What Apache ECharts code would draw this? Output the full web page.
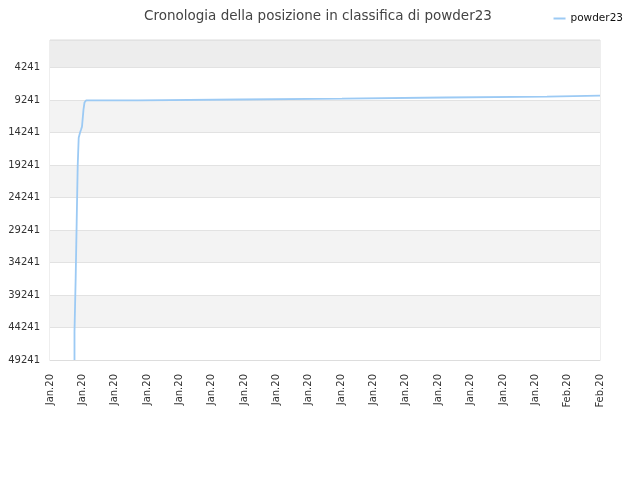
<!DOCTYPE html>
<html>
<head>
<meta charset="utf-8">
<script src="https://cdn.jsdelivr.net/npm/echarts@6/dist/echarts.min.js"></script>
<style>
html,body{margin:0;padding:0;background:#fff;}
#container{width:640px;height:480px;}
</style>
</head>
<body>
<div id="container"></div>
<script>
// x axis labels, one per unit step
var xLabels = ['Jan.20','Jan.20','Jan.20','Jan.20','Jan.20','Jan.20','Jan.20','Jan.20','Jan.20',
	'Jan.20','Jan.20','Jan.20','Jan.20','Jan.20','Jan.20','Jan.20','Feb.20','Feb.20'];
var yTicks = [4241, 9241, 14241, 19241, 24241, 29241, 34241, 39241, 44241, 49241];
var rankTop = 1;
// position on x axis (label units) and rank
var posX = [0.757, 0.757, 0.794, 0.825, 0.856, 0.887, 0.927, 0.958, 0.989, 1.035, 1.066, 1.113,
	2.711, 5.873, 9.025, 12.209, 15.362, 17.0];
var rank = [49241, 44900, 36560, 27930, 19450, 15030, 14260, 13800, 13330, 10710, 9630, 9300,
	9160, 9010, 8850, 8700, 8550, 8550];

var chart = echarts.init(document.getElementById('container'));
// rank holds until the next reading, then jumps
var points = [];
for (var i = 0; i < posX.length; i++) {
	if (i > 0) points.push([posX[i], rank[i - 1]]);
	points.push([posX[i], rank[i]]);
}
var option = {
	animation: false,
	textStyle: { fontFamily: 'DejaVu Sans' },
	title: {
		text: 'Cronologia della posizione in classifica di powder23',
		left: 139,
		top: 4,
		textStyle: { fontSize: 13.5, fontWeight: 'normal', color: '#444', fontFamily: 'DejaVu Sans' }
	},
	legend: {
		right: 12,
		top: 8,
		icon: 'rect',
		itemWidth: 12,
		itemHeight: 2,
		itemGap: 7,
		textStyle: { fontSize: 10.5, color: '#111' },
		data: ['powder23']
	},
	grid: {
		left: 50, right: 40, top: 40, bottom: 120,
		show: true,
		borderColor: '#dddddd',
		borderWidth: 1,
		outerBoundsMode: 'none'
	},
	xAxis: {
		type: 'value',
		min: 0,
		max: xLabels.length - 1,
		interval: 1,
		axisLine: { show: true, lineStyle: { color: '#dddddd' } },
		axisTick: { show: false },
		splitLine: { show: false },
		axisLabel: {
			rotate: 90,
			fontSize: 10,
			color: '#333',
			margin: 14,
			formatter: function (v) { return xLabels[Math.round(v)] || ''; }
		}
	},
	yAxis: {
		type: 'value',
		inverse: true,
		min: rankTop,
		max: yTicks[yTicks.length - 1],
		axisLine: { show: false },
		axisTick: { show: false, customValues: [rankTop].concat(yTicks) },
		axisLabel: {
			customValues: yTicks,
			fontSize: 10,
			color: '#333',
			margin: 10,
			formatter: function (v) { return String(v); }
		},
		splitLine: { show: true, lineStyle: { color: '#e2e2e2' } },
		splitArea: {
			show: true,
			areaStyle: {
				color: ['#ededed', '#ffffff', '#f3f3f3', '#ffffff', '#f3f3f3',
					'#ffffff', '#f3f3f3', '#ffffff', '#f3f3f3', '#ffffff']
			}
		}
	},
	series: [{
		name: 'powder23',
		type: 'line',
		symbol: 'none',
		data: points,
		lineStyle: { color: '#9ccaf4', width: 1.8 },
		itemStyle: { color: '#9ccaf4' }
	}]
};
chart.setOption(option);
</script>
</body>
</html>
